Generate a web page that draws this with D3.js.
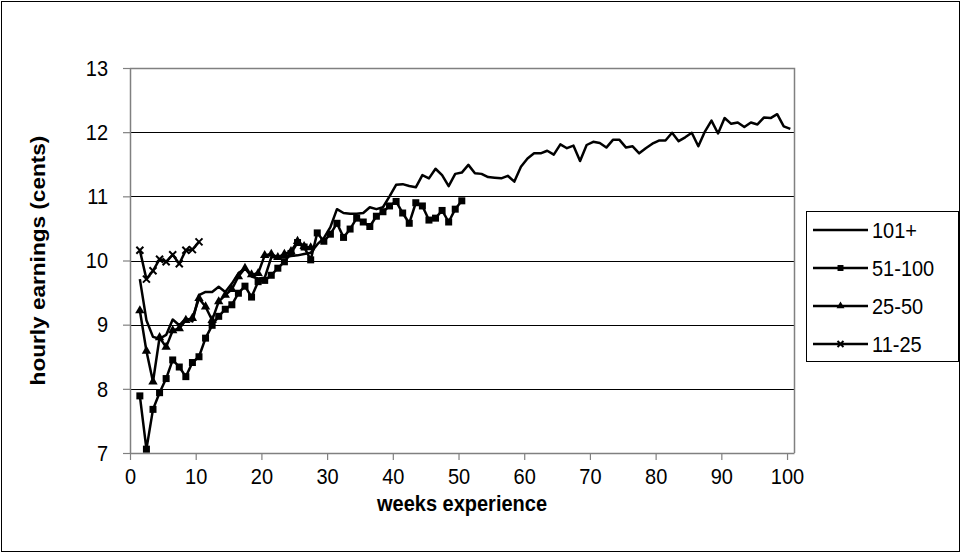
<!DOCTYPE html>
<html><head><meta charset="utf-8">
<script src="https://cdn.jsdelivr.net/npm/d3@7"></script>
<style>
html,body{margin:0;padding:0;background:#fff;}
svg{display:block;font-family:"Liberation Sans",Arial,sans-serif;}
</style></head>
<body>
<svg id="chart" width="962" height="554"></svg>
<script>
// ---- data ----
const seriesNames = ["101+", "51-100", "25-50", "11-25"];
const firstWeekPos = 1.5; // first observation plotted at this x position
const s101 = [9.71,9.07,8.81,8.78,8.84,9.08,8.99,9.10,9.05,9.46,
  9.51,9.51,9.59,9.51,9.64,9.80,9.88,9.75,9.72,9.73,
  10.05,10.05,10.05,10.07,10.08,10.10,10.12,10.25,10.35,10.52,
  10.80,10.74,10.73,10.73,10.74,10.83,10.80,10.83,11.00,11.18,
  11.19,11.16,11.14,11.33,11.28,11.43,11.33,11.16,11.35,11.37,
  11.49,11.36,11.35,11.30,11.29,11.28,11.32,11.23,11.46,11.59,
  11.67,11.67,11.71,11.65,11.81,11.75,11.79,11.55,11.80,11.85,
  11.83,11.76,11.88,11.88,11.76,11.78,11.67,11.75,11.82,11.87,
  11.87,11.99,11.86,11.92,11.99,11.78,12.01,12.18,11.98,12.22,
  12.13,12.15,12.08,12.15,12.12,12.23,12.22,12.28,12.09,12.05];
const s51 = [7.89,7.06,7.68,7.94,8.16,8.45,8.34,8.19,8.41,8.50,
  8.79,8.99,9.13,9.24,9.31,9.49,9.60,9.43,9.67,9.69,
  9.77,9.88,9.98,10.11,10.28,10.21,10.01,10.43,10.30,10.41,
  10.58,10.36,10.49,10.66,10.60,10.53,10.69,10.76,10.85,10.92,
  10.74,10.58,10.90,10.85,10.63,10.66,10.78,10.60,10.80,10.93];
const s25 = [9.22,8.59,8.11,8.80,8.65,8.91,8.94,9.07,9.10,9.41,
  9.28,9.07,9.36,9.46,9.55,9.75,9.88,9.78,9.80,10.08,
  10.10,10.05,10.10,10.14,10.30,10.22,10.20];
const s11 = [10.16,9.71,9.84,10.02,9.98,10.09,9.95,10.16,10.17,10.29];
const xTicks = [0,10,20,30,40,50,60,70,80,90,100];
const yTicks = [7,8,9,10,11,12,13];
const xTitle = "weeks experience";
const yTitle = "hourly earnings (cents)";

// ---- layout ----
const svg = d3.select("#chart");
const L = 130, R = 794, T = 68, B = 453;
const x = d3.scaleLinear().domain([0, 101.06]).range([L, R]);
const y = d3.scaleLinear().domain([7, 13]).range([B, T]);
const FONT = 20, SY = 1.13; // text is drawn slightly taller than wide

// outer border
svg.append("rect").attr("x",1.5).attr("y",1.5).attr("width",958).attr("height",550)
  .attr("fill","none").attr("stroke","#000").attr("stroke-width",1);

// gridlines
svg.append("g").selectAll("line").data(yTicks.filter(v=>v>7 && v<13)).join("line")
  .attr("x1",L).attr("x2",R).attr("y1",d=>Math.round(y(d))+0.5).attr("y2",d=>Math.round(y(d))+0.5)
  .attr("stroke","#000").attr("stroke-width",1);

// plot border (top & right) gray
svg.append("path").attr("d",`M${L},${T+0.5}H${R+0.5}V${B}`).attr("fill","none")
  .attr("stroke","#808080").attr("stroke-width",1.5);

// axes
const xAxis = d3.axisBottom(x).tickValues(xTicks).tickFormat(d3.format("d")).tickSize(7).tickSizeOuter(0).tickPadding(8);
const gx = svg.append("g").attr("transform",`translate(0,${B})`).call(xAxis);
const yAxis = d3.axisLeft(y).tickValues(yTicks).tickFormat(d3.format("d")).tickSize(7).tickSizeOuter(0).tickPadding(15);
const gy = svg.append("g").attr("transform",`translate(${L},0)`).call(yAxis);
[gx, gy].forEach(g=>{
  g.select(".domain").attr("stroke","#808080").attr("stroke-width",1.5);
  g.selectAll(".tick line").attr("stroke","#808080").attr("stroke-width",1.2);
  g.selectAll(".tick text").attr("fill","#000").attr("font-size",FONT)
   .attr("font-family","Liberation Sans, Arial, sans-serif");
});
// stretch tick labels vertically about their own position
gx.selectAll(".tick text").each(function(){
  const t=d3.select(this); const yy=+t.attr("y");
  t.attr("y",null).attr("transform",`translate(0,${yy}) scale(1,${SY})`);
});
gy.selectAll(".tick text").attr("transform",`scale(1,${SY})`);

// titles
svg.append("text").attr("transform",`translate(${(L+R)/2},511) scale(1,${SY})`).attr("text-anchor","middle")
  .attr("font-size",FONT).attr("font-weight","bold").text(xTitle);
svg.append("text").attr("transform",`translate(45,${(T+B)/2}) scale(1,${SY}) rotate(-90)`)
  .attr("text-anchor","middle").attr("font-size",FONT).attr("font-weight","bold").text(yTitle);

// series
const series = [
  {name: seriesNames[0], values: s101, marker: "none"},
  {name: seriesNames[1], values: s51, marker: "square"},
  {name: seriesNames[2], values: s25, marker: "triangle"},
  {name: seriesNames[3], values: s11, marker: "cross"}
];
const line = d3.line().x(d=>x(d[0])).y(d=>y(d[1]));
const plot = svg.append("g");
function drawMarker(g, type, cx, cy, scale){
  const s = scale||1;
  if(type==="square"){
    g.append("rect").attr("x",cx-3.5*s).attr("y",cy-3.5*s).attr("width",7*s).attr("height",7*s).attr("fill","#000");
  } else if(type==="triangle"){
    g.append("path").attr("d",d3.symbol().type(d3.symbolTriangle).size(38*s*s)()).attr("transform",`translate(${cx},${cy})`).attr("fill","#000");
  } else if(type==="cross"){
    const r=3.5*s;
    g.append("path").attr("d",`M${cx-r},${cy-r}L${cx+r},${cy+r}M${cx-r},${cy+r}L${cx+r},${cy-r}`).attr("stroke","#000").attr("stroke-width",2);
  }
}
series.slice().reverse().forEach(s=>{
  const pts = s.values.map((v,i)=>[firstWeekPos+i, v]);
  plot.append("path").datum(pts).attr("d",line).attr("fill","none")
    .attr("stroke","#000").attr("stroke-width",2.5).attr("stroke-linejoin","round");
  if(s.marker!=="none") pts.forEach(p=>drawMarker(plot, s.marker, x(p[0]), y(p[1])));
});

// legend
const lg = svg.append("g");
lg.append("rect").attr("x",806.5).attr("y",211.5).attr("width",152).attr("height",150)
  .attr("fill","#fff").attr("stroke","#000").attr("stroke-width",1);
series.forEach((s,i)=>{
  const cy = 230 + i*38;
  lg.append("line").attr("x1",813).attr("x2",868).attr("y1",cy).attr("y2",cy).attr("stroke","#000").attr("stroke-width",2.5);
  drawMarker(lg, s.marker, 840.5, cy, 0.85);
  lg.append("text").attr("transform",`translate(872,${cy}) scale(1,${SY})`).attr("dy","0.35em").attr("font-size",FONT).text(s.name);
});
</script>
</body></html>
